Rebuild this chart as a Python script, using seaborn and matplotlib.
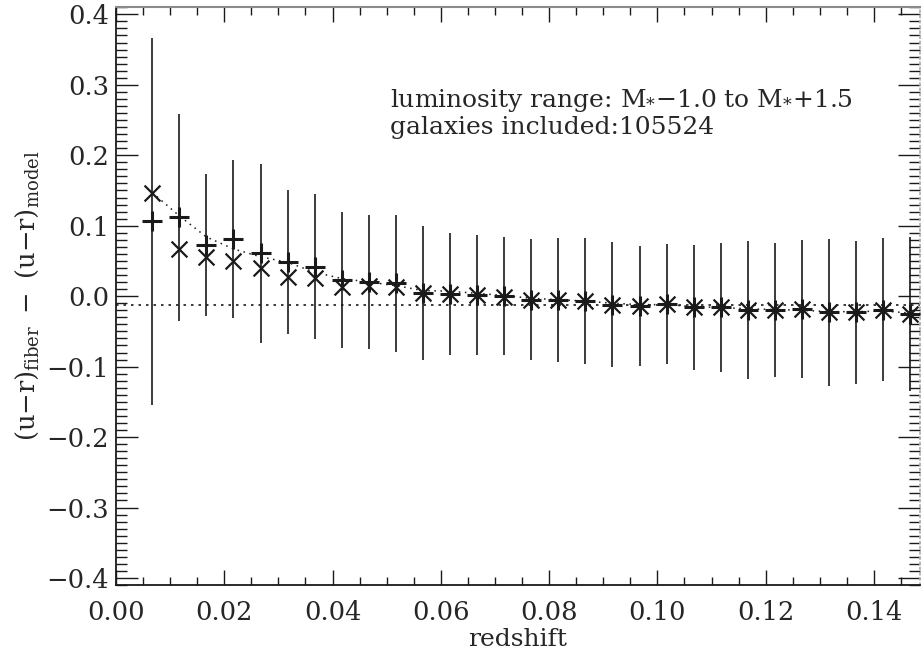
import matplotlib
matplotlib.use("Agg")
import matplotlib.pyplot as plt
from matplotlib.ticker import MultipleLocator, FuncFormatter
import numpy as np
import pandas as pd
import seaborn as sns

# redshift bin centres
redshift = [0.0067, 0.0117, 0.0167, 0.0217, 0.0267, 0.0317, 0.0367, 0.0417,
            0.0467, 0.0517, 0.0567, 0.0617, 0.0667, 0.0717, 0.0767, 0.0817,
            0.0867, 0.0917, 0.0967, 0.1017, 0.1067, 0.1117, 0.1167, 0.1217,
            0.1267, 0.1317, 0.1367, 0.1417, 0.1467]
# colour offset, "+" series (error bars centred on it)
plus_vals = [0.106, 0.112, 0.073, 0.081, 0.061, 0.049, 0.042, 0.023, 0.020,
             0.018, 0.004, 0.003, 0.002, 0.000, -0.005, -0.005, -0.007,
             -0.012, -0.014, -0.011, -0.016, -0.016, -0.019, -0.020, -0.018,
             -0.023, -0.023, -0.019, -0.025]
# colour offset, "x" series
cross_vals = [0.147, 0.067, 0.055, 0.050, 0.040, 0.027, 0.026, 0.013, 0.014,
              0.013, 0.004, 0.003, 0.002, -0.001, -0.005, -0.005, -0.007,
              -0.012, -0.014, -0.011, -0.016, -0.016, -0.019, -0.020, -0.018,
              -0.023, -0.023, -0.019, -0.025]
# dotted curve
curve_vals = [0.147, 0.114, 0.084, 0.067, 0.056, 0.048, 0.034, 0.025, 0.020,
              0.015, 0.008, 0.007, 0.004, 0.001, -0.003, -0.005, -0.007,
              -0.010, -0.012, -0.012, -0.015, -0.016, -0.018, -0.019, -0.020,
              -0.022, -0.022, -0.021, -0.024]
# half length of the vertical bars
err_vals = [0.260, 0.147, 0.101, 0.112, 0.127, 0.102, 0.103, 0.096, 0.095,
            0.097, 0.095, 0.087, 0.085, 0.084, 0.086, 0.088, 0.089, 0.089,
            0.085, 0.085, 0.089, 0.091, 0.098, 0.095, 0.098, 0.104, 0.102,
            0.102, 0.109]
zero_level = -0.012

df = pd.DataFrame({"z": redshift, "plus": plus_vals, "cross": cross_vals,
                   "curve": curve_vals, "err": err_vals})

sns.set_theme(style="ticks")
plt.rcParams["font.family"] = ["DejaVu Serif"]
plt.rcParams["mathtext.fontset"] = "dejavuserif"
plt.rcParams["xtick.direction"] = "in"
plt.rcParams["ytick.direction"] = "in"

fig = plt.figure(figsize=(9.22, 6.53), dpi=100)
ax = fig.add_axes([0.1258, 0.1041, 0.8720, 0.8847])

ax.vlines(df["z"], df["plus"] - df["err"], df["plus"] + df["err"],
          color="k", lw=1.2, zorder=2)
ax.axhline(zero_level, color="k", lw=1.2, ls=(0, (1.5, 3)), zorder=1)
sns.lineplot(data=df, x="z", y="curve", ax=ax, color="k", lw=1.1,
             ls=(0, (1, 3)), zorder=2)
sns.scatterplot(data=df, x="z", y="plus", ax=ax, marker="+", s=190,
                color="k", linewidth=2.2, zorder=3)
sns.scatterplot(data=df, x="z", y="cross", ax=ax, marker="x", s=130,
                color="k", linewidth=1.6, zorder=3)

ax.set_xlim(0, 0.1485)
ax.set_ylim(-0.41, 0.41)
ax.xaxis.set_major_locator(MultipleLocator(0.02))
ax.xaxis.set_minor_locator(MultipleLocator(0.005))
ax.yaxis.set_major_locator(MultipleLocator(0.1))
ax.yaxis.set_minor_locator(MultipleLocator(0.01))
ax.xaxis.set_major_formatter(FuncFormatter(lambda v, p: f"{v:.2f}"))
ax.yaxis.set_major_formatter(
    FuncFormatter(lambda v, p: f"{v:.1f}".replace("-", "\u2212")))
ax.tick_params(which="both", top=True, right=True, color="k",
               labelsize=18.5, width=1)
ax.tick_params(axis="x", which="major", length=11, pad=11)
ax.tick_params(axis="x", which="minor", length=6)
ax.tick_params(axis="y", which="major", length=16, pad=5)
ax.tick_params(axis="y", which="minor", length=8)

for side in ["left", "bottom"]:
    ax.spines[side].set_color("k")
    ax.spines[side].set_linewidth(1.3)
ax.spines["top"].set_color("#8a8a8a")
ax.spines["top"].set_linewidth(1.5)
ax.spines["right"].set_color("#b0b0b0")
ax.spines["right"].set_linestyle((0, (1, 2)))

ax.set_xlabel("redshift", fontsize=18, labelpad=2)
ax.set_ylabel(r"$(\mathrm{u{-}r})_{\mathrm{fiber}}\ -\ (\mathrm{u{-}r})_{\mathrm{model}}$",
              fontsize=18.5, labelpad=4)

ax.text(0.341, 0.838, r"luminosity range: M$_{*}$$-$1.0 to M$_{*}$+1.5",
        transform=ax.transAxes, fontsize=18, va="center", ha="left")
ax.text(0.341, 0.792, "galaxies included:105524",
        transform=ax.transAxes, fontsize=18, va="center", ha="left")

fig.savefig("out.png", dpi=100)
